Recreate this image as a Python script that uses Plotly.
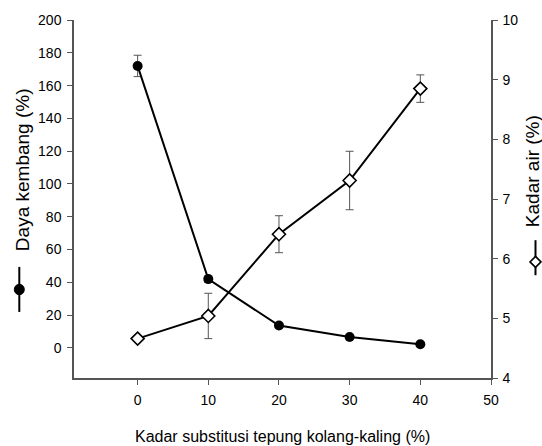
import plotly.graph_objects as go

# Data
substitusi = [0, 10, 20, 30, 40]
daya_kembang = [172, 42, 13.7, 6.7, 2.3]
daya_kembang_err = [6.5, 2, 1.5, 1, 1]
kadar_air = [4.66, 5.04, 6.41, 7.31, 8.85]
kadar_air_err = [0.03, 0.38, 0.31, 0.49, 0.23]
x_ticks = [0, 10, 20, 30, 40, 50]
y1_ticks = [0, 20, 40, 60, 80, 100, 120, 140, 160, 180, 200]
y2_ticks = [4, 5, 6, 7, 8, 9, 10]

W, H = 542, 446
L, R, T, B = 74, 491, 20, 377.7  # in screenshot pixels

def px(x):
    return (x - L) / (R - L)

def py(y):
    return (B - y) / (B - T)

FONT = "Liberation Sans, Arial, sans-serif"
AXIS_COL = "#555555"

fig = go.Figure()
fig.add_trace(go.Scatter(
    x=substitusi, y=daya_kembang, mode="lines+markers",
    line=dict(color="black", width=2),
    marker=dict(symbol="circle", size=10, color="black"),
    error_y=dict(type="data", array=daya_kembang_err, visible=True,
                 color="#555555", thickness=1, width=4),
    yaxis="y", showlegend=False, cliponaxis=False))
fig.add_trace(go.Scatter(
    x=substitusi, y=kadar_air, mode="lines+markers",
    line=dict(color="black", width=2),
    marker=dict(symbol="diamond", size=10, color="white",
                line=dict(color="black", width=1.6)),
    error_y=dict(type="data", array=kadar_air_err, visible=True,
                 color="#555555", thickness=1, width=4),
    yaxis="y2", showlegend=False, cliponaxis=False))

fig.update_layout(
    width=W, height=H,
    margin=dict(l=L, r=W - R, t=T, b=H - B, pad=0),
    paper_bgcolor="white", plot_bgcolor="white",
    font=dict(family=FONT, size=14, color="black"),
    xaxis=dict(range=[-9, 50], tickvals=x_ticks, showgrid=False, zeroline=False,
               showline=True, linecolor=AXIS_COL, linewidth=1.5,
               ticks="outside", ticklen=5, tickcolor=AXIS_COL,
               ticklabelstandoff=3, tickfont=dict(size=14)),
    yaxis=dict(range=[-18.3, 200], tickvals=y1_ticks, showgrid=False, zeroline=False,
               showline=True, linecolor=AXIS_COL, linewidth=1.5,
               ticks="outside", ticklen=5, tickcolor=AXIS_COL,
               ticklabelstandoff=3, tickfont=dict(size=14)),
    yaxis2=dict(range=[4, 10], tickvals=y2_ticks, overlaying="y", side="right",
                showgrid=False, zeroline=False,
                showline=True, linecolor=AXIS_COL, linewidth=1.5,
                ticks="outside", ticklen=5, tickcolor=AXIS_COL,
                ticklabelstandoff=2, tickfont=dict(size=14)),
)

annotations = [
    dict(text="Kadar substitusi tepung kolang-kaling (%)", xref="paper", yref="paper",
         x=px(282), y=py(436), xanchor="center", yanchor="middle", showarrow=False,
         font=dict(size=16, family=FONT, color="black")),
    dict(text="Daya kembang (%)", xref="paper", yref="paper", textangle=-90,
         x=px(22), y=py(170), xanchor="center", yanchor="middle", showarrow=False,
         font=dict(size=19, family=FONT, color="black")),
    dict(text="Kadar air (%)", xref="paper", yref="paper", textangle=-90,
         x=px(532), y=py(171), xanchor="center", yanchor="middle", showarrow=False,
         font=dict(size=19, family=FONT, color="black")),
]
fig.update_layout(annotations=annotations)

# Legend-like symbols next to axis titles
lx = 19.3
rx = 535.5
shapes = [
    dict(type="line", xref="paper", yref="paper", x0=px(lx), x1=px(lx),
         y0=py(266.7), y1=py(311.7), line=dict(color="black", width=2)),
    dict(type="circle", xref="paper", yref="paper", x0=px(lx - 5), x1=px(lx + 5),
         y0=py(284), y1=py(294.5), fillcolor="black", line=dict(color="black", width=1)),
    dict(type="line", xref="paper", yref="paper", x0=px(rx), x1=px(rx),
         y0=py(240), y1=py(275), line=dict(color="black", width=2)),
]
cy = 261.7
d = 5.5
path = "M {} {} L {} {} L {} {} L {} {} Z".format(
    px(rx), py(cy - d), px(rx + d), py(cy), px(rx), py(cy + d), px(rx - d), py(cy))
shapes.append(dict(type="path", xref="paper", yref="paper", path=path,
                   fillcolor="white", line=dict(color="black", width=1.6)))
fig.update_layout(shapes=shapes)

fig.write_html(
    "out.html",
    config={"displayModeBar": False},
    post_script="document.body.style.margin='0';document.body.style.overflow='hidden';",
)
